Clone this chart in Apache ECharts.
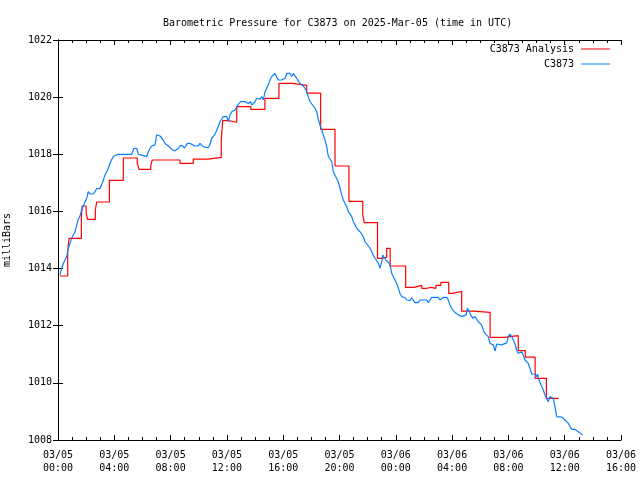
<!DOCTYPE html>
<html>
<head>
<meta charset="utf-8">
<script src="https://cdn.jsdelivr.net/npm/echarts@6/dist/echarts.min.js"></script>
<style>html,body{margin:0;padding:0;background:#fff;}#c{width:640px;height:480px;}</style>
</head>
<body>
<div id="c"></div>
<script>
// Hours since 2025-03-05 00:00 UTC
const titleText = "Barometric Pressure for C3873 on 2025-Mar-05 (time in UTC)";
const yAxisName = "milliBars";
const seriesNames = ["C3873 Analysis", "C3873"];
const xTickHours = [0, 4, 8, 12, 16, 20, 24, 28, 32, 36, 40];
const yTicks = [1008, 1010, 1012, 1014, 1016, 1018, 1020, 1022];

const analysisHours = [0.14,0.69,0.78,1.66,1.72,2.0,2.1,2.65,2.75,3.65,4.64,5.63,5.75,6.59,6.7,8.67,9.61,10.66,11.6,11.7,12.1,12.7,13.7,14.7,15.7,16.67,17.67,18.66,19.68,20.67,21.65,21.75,22.7,23.1,23.35,23.6,24.7,25.3,25.85,26.2,26.5,26.85,27.2,27.76,28.0,28.68,29.5,30.7,31.7,32.7,33.2,33.9,34.7,35.57];
const analysisValues = [1013.74,1014.59,1015.06,1015.8,1016.19,1015.96,1015.72,1016.05,1016.33,1017.09,1017.87,1017.7,1017.47,1017.6,1017.8,1017.68,1017.83,1017.89,1018.5,1019.18,1019.12,1019.67,1019.57,1019.96,1020.48,1020.41,1020.14,1018.87,1017.59,1016.35,1015.9,1015.61,1014.36,1014.4,1014.71,1014.09,1013.34,1013.41,1013.31,1013.34,1013.31,1013.41,1013.52,1013.13,1013.2,1012.51,1012.47,1011.59,1011.65,1011.13,1010.9,1010.16,1009.46,1009.46];

const obsHours = [0.14,0.26,0.38,0.50,0.62,0.73,0.85,0.97,1.09,1.21,1.33,1.44,1.56,1.68,1.80,1.92,2.04,2.15,2.27,2.51,2.63,2.75,2.98,3.10,3.22,3.34,3.46,3.57,3.69,3.82,3.93,4.05,4.28,4.53,4.64,4.76,4.88,4.99,5.24,5.40,5.59,5.71,5.95,6.06,6.30,6.42,6.54,6.66,6.89,7.01,7.13,7.25,7.37,7.48,7.60,7.72,7.84,7.96,8.08,8.19,8.31,8.43,8.55,8.67,8.86,8.97,9.04,9.19,9.29,9.38,9.57,9.73,9.97,10.09,10.21,10.32,10.44,10.68,10.80,10.92,11.03,11.15,11.28,11.39,11.51,11.63,11.74,11.86,11.99,12.10,12.22,12.34,12.58,12.70,12.81,12.98,13.12,13.29,13.41,13.52,13.69,13.76,13.88,14.00,14.12,14.23,14.35,14.47,14.59,14.71,14.83,14.94,15.06,15.18,15.30,15.42,15.54,15.65,15.89,16.13,16.25,16.48,16.60,16.72,16.84,16.96,17.19,17.43,17.55,17.67,17.78,17.90,18.03,18.14,18.26,18.38,18.49,18.61,18.74,18.85,18.97,19.09,19.20,19.33,19.45,19.56,19.68,19.80,19.91,20.04,20.16,20.27,20.39,20.51,20.63,20.75,20.87,20.98,21.10,21.22,21.34,21.46,21.58,21.69,21.81,21.93,22.05,22.17,22.29,22.40,22.52,22.64,22.76,22.88,23.00,23.07,23.16,23.30,23.40,23.54,23.64,23.71,23.82,23.94,24.06,24.18,24.30,24.42,24.53,24.65,24.77,24.89,25.01,25.13,25.24,25.36,25.60,25.72,25.84,25.95,26.20,26.31,26.43,26.55,27.02,27.14,27.37,27.62,27.73,27.85,27.97,28.09,28.21,28.33,28.44,28.56,28.68,28.80,28.99,29.08,29.22,29.32,29.46,29.63,29.75,29.86,29.98,30.10,30.22,30.34,30.46,30.57,30.69,30.81,30.93,31.05,31.17,31.28,31.52,31.64,31.88,31.99,32.11,32.23,32.35,32.47,32.59,32.70,32.82,32.95,33.06,33.18,33.30,33.41,33.53,33.66,33.89,34.01,34.08,34.12,34.24,34.37,34.48,34.60,34.72,34.83,34.96,35.08,35.19,35.31,35.43,35.79,35.91,36.02,36.14,36.26,36.38,36.50,36.73,36.85,36.97,37.09,37.28];
const obsValues = [1013.78,1014.01,1014.18,1014.24,1014.42,1014.71,1014.88,1015.06,1015.18,1015.29,1015.53,1015.72,1015.84,1016.05,1016.19,1016.26,1016.46,1016.69,1016.61,1016.61,1016.69,1016.80,1016.80,1016.93,1017.10,1017.28,1017.39,1017.51,1017.68,1017.82,1017.92,1017.96,1018.00,1018.00,1017.94,1018.00,1017.94,1018.00,1018.00,1018.21,1018.21,1018.00,1017.97,1017.92,1017.92,1018.09,1018.21,1018.29,1018.33,1018.68,1018.70,1018.64,1018.58,1018.50,1018.38,1018.33,1018.29,1018.23,1018.17,1018.11,1018.12,1018.18,1018.21,1018.30,1018.30,1018.21,1018.14,1018.38,1018.33,1018.38,1018.33,1018.29,1018.30,1018.38,1018.33,1018.27,1018.23,1018.23,1018.35,1018.56,1018.62,1018.70,1018.85,1018.97,1019.14,1019.20,1019.32,1019.26,1019.32,1019.14,1019.37,1019.49,1019.55,1019.67,1019.75,1019.84,1019.90,1019.84,1019.90,1019.78,1019.84,1019.72,1019.78,1019.84,1019.96,1020.02,1019.93,1020.02,1019.90,1020.19,1020.31,1020.43,1020.60,1020.72,1020.78,1020.83,1020.78,1020.60,1020.60,1020.66,1020.83,1020.83,1020.72,1020.83,1020.78,1020.66,1020.48,1020.39,1020.31,1020.19,1020.02,1019.84,1019.76,1019.70,1019.61,1019.49,1019.24,1019.03,1018.85,1018.68,1018.50,1018.27,1017.94,1017.92,1017.74,1017.39,1017.27,1017.22,1017.04,1016.81,1016.57,1016.40,1016.28,1016.17,1015.99,1015.93,1015.82,1015.64,1015.53,1015.41,1015.35,1015.29,1015.23,1015.12,1014.94,1014.91,1014.79,1014.71,1014.59,1014.47,1014.36,1014.30,1014.18,1014.02,1014.24,1014.47,1014.41,1014.30,1014.36,1014.18,1014.01,1013.83,1013.72,1013.60,1013.48,1013.31,1013.13,1013.02,1012.98,1012.98,1012.90,1012.96,1012.88,1012.98,1012.96,1012.81,1012.81,1012.90,1012.85,1012.90,1012.90,1012.81,1012.81,1012.99,1012.99,1012.90,1012.99,1012.99,1012.90,1012.72,1012.61,1012.55,1012.46,1012.43,1012.38,1012.38,1012.32,1012.38,1012.38,1012.61,1012.50,1012.38,1012.26,1012.32,1012.30,1012.14,1012.17,1012.03,1011.85,1011.73,1011.79,1011.62,1011.38,1011.33,1011.33,1011.11,1011.36,1011.33,1011.33,1011.38,1011.40,1011.62,1011.71,1011.62,1011.50,1011.36,1011.15,1011.03,1011.03,1011.09,1010.97,1010.80,1010.80,1010.68,1010.51,1010.31,1010.31,1010.22,1010.31,1010.16,1010.10,1009.87,1009.75,1009.57,1009.52,1009.34,1009.52,1009.57,1009.46,1009.17,1008.82,1008.80,1008.76,1008.70,1008.64,1008.58,1008.47,1008.37,1008.37,1008.35,1008.29,1008.23,1008.17];

const FONT = "DejaVu Sans Mono";
function pad(n){ return (n < 10 ? "0" : "") + n; }
function fmtX(h){
  const day = 5 + Math.floor(h / 24);
  const hh = Math.round(h) % 24;
  return "03/" + pad(day) + "\n" + pad(hh) + ":00";
}

const chart = echarts.init(document.getElementById('c'), null, {renderer: 'canvas'});
const axisCommon = {
  axisLine: {show: true, lineStyle: {color: '#000', width: 1}},
  splitLine: {show: false},
  minorSplitLine: {show: false}
};
const xBase = Object.assign({}, axisCommon, {
  type: 'value', min: xTickHours[0], max: xTickHours[xTickHours.length-1], interval: 4,
  axisTick: {show: true, inside: true, length: 5, lineStyle: {color: '#000'}},
  minorTick: {show: true, splitNumber: 4, length: 3, lineStyle: {color: '#000'}}
});
const yBase = Object.assign({}, axisCommon, {
  type: 'value', min: yTicks[0], max: yTicks[yTicks.length-1], interval: 2,
  axisTick: {show: true, inside: true, length: 5, lineStyle: {color: '#000'}}
});

chart.setOption({
  animation: false,
  backgroundColor: '#fff',
  title: {
    text: titleText, left: 158, top: 13,
    textStyle: {fontFamily: FONT, fontSize: 10, fontWeight: 'normal', color: '#000'}
  },
  legend: {
    orient: 'vertical', right: 30, top: 44, align: 'right', padding: 0,
    itemWidth: 29, itemHeight: 1, itemGap: 5, icon: 'rect',
    textStyle: {fontFamily: FONT, fontSize: 10, color: '#000', lineHeight: 10, padding: [0, 2, 0, 0]},
    data: seriesNames
  },
  grid: {left: 58, right: 19, top: 40, bottom: 40, containLabel: false, outerBoundsMode: 'none'},
  xAxis: [
    Object.assign({}, xBase, {
      position: 'bottom',
      axisLabel: {show: true, formatter: fmtX, fontFamily: FONT, fontSize: 10, color: '#000', lineHeight: 13, margin: 9, showMinLabel: true, showMaxLabel: true}
    }),
    Object.assign({}, xBase, {position: 'top', axisLabel: {show: false}})
  ],
  yAxis: [
    Object.assign({}, yBase, {
      position: 'left',
      name: yAxisName, nameLocation: 'middle', nameGap: 46, nameRotate: 90,
      nameTextStyle: {fontFamily: FONT, fontSize: 10, color: '#000'},
      axisLabel: {show: true, fontFamily: FONT, fontSize: 10, color: '#000', margin: 6, formatter: v => String(v)}
    }),
    Object.assign({}, yBase, {position: 'right', axisLabel: {show: false}})
  ],
  series: [
    {
      name: seriesNames[0], type: 'line', step: 'end', showSymbol: false, symbol: 'none',
      xAxisIndex: 0, yAxisIndex: 0,
      color: '#ff0000', lineStyle: {color: '#ff0000', width: 1.2},
      data: analysisHours.map((h, i) => [h, analysisValues[i]])
    },
    {
      name: seriesNames[1], type: 'line', showSymbol: false, symbol: 'none',
      xAxisIndex: 0, yAxisIndex: 0,
      color: '#0a80ff', lineStyle: {color: '#0a80ff', width: 1.2},
      data: obsHours.map((h, i) => [h, obsValues[i]])
    }
  ]
});
</script>
</body>
</html>
